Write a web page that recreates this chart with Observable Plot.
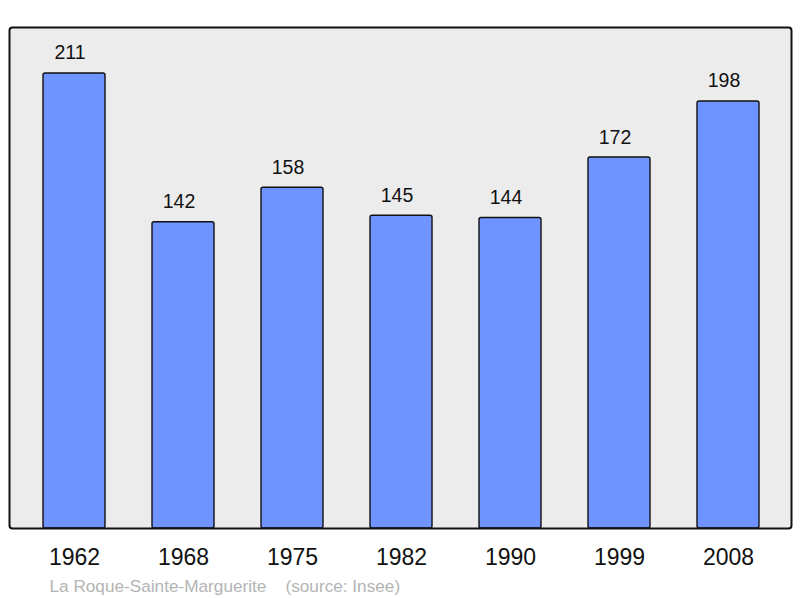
<!DOCTYPE html>
<html>
<head>
<meta charset="utf-8">
<script src="https://cdn.jsdelivr.net/npm/d3@7"></script>
<script src="https://cdn.jsdelivr.net/npm/@observablehq/plot@0.6"></script>
<style>
  html, body { margin: 0; padding: 0; background: #fff; }
  svg { display: block; }
</style>
</head>
<body>
<div id="chart"></div>
<script>
const years = ["1962", "1968", "1975", "1982", "1990", "1999", "2008"];
const population = [211, 142, 158, 145, 144, 172, 198];
const caption = "La Roque-Sainte-Marguerite\u00a0\u00a0\u00a0\u00a0(source: Insee)";

const data = years.map((y, i) => ({year: y, value: population[i]}));

const chart = Plot.plot({
  width: 800,
  height: 598,
  marginLeft: 9,
  marginRight: 9,
  marginTop: 27,
  marginBottom: 70,
  insetLeft: 8.3,
  insetRight: 5.5,
  style: {fontFamily: "'Liberation Sans', Arial, sans-serif", background: "white"},
  x: {type: "band", domain: years, paddingInner: 0.428, paddingOuter: 0.214},
  y: {domain: [0, 232.3], axis: null},
  marks: [
    Plot.frame({fill: "#ececec", stroke: "none", rx: 3}),
    Plot.barY(data, {x: "year", y: "value", fill: "#7094ff", stroke: "#111", strokeWidth: 1.4, rx: 2}),
    Plot.frame({stroke: "#111", strokeWidth: 2, rx: 3}),
    Plot.text(data, {x: "year", y: "value", text: d => String(d.value), dy: -14, dx: -4.5, lineAnchor: "bottom", fontSize: 19.5, fill: "#111"}),
    Plot.axisX({tickSize: 0, tickPadding: 20.5, fontSize: 23, label: null, fill: "#111"}),
    Plot.text([caption], {frameAnchor: "bottom-left", dx: 40, dy: 63, lineAnchor: "bottom", textAnchor: "start", fontSize: 17.2, fill: "#b4b4b4"})
  ]
});
document.getElementById("chart").appendChild(chart);
</script>
</body>
</html>
